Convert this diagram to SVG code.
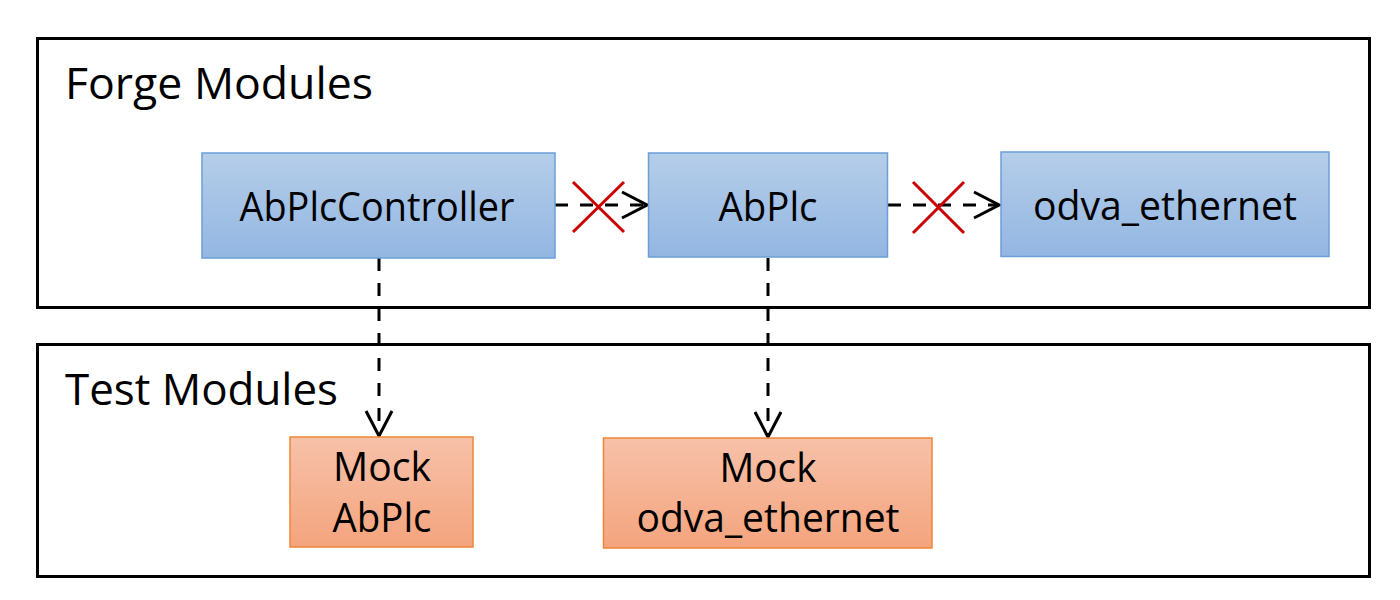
<svg xmlns="http://www.w3.org/2000/svg" width="1400" height="600" viewBox="0 0 1400 600">
<style>
.frame{fill:none;stroke:#000;stroke-width:3}
.blue{fill:url(#gBlue);stroke:#6a9fd8;stroke-width:1.5}
.orange{fill:url(#gOrange);stroke:#ef8537;stroke-width:1.5}
text{font-family:"Open Sans","Noto Sans","Liberation Sans",sans-serif;fill:#000}
.title{font-size:44px}
.lbl{font-size:40px;text-anchor:middle}
.dep{fill:none;stroke:#000;stroke-width:3;stroke-dasharray:13 12}
.cross{stroke:#cc0000;stroke-width:3;fill:none}
</style>
<defs>
<linearGradient id="gBlue" x1="0" y1="0" x2="0" y2="1">
<stop offset="0" stop-color="#b5cee9"/>
<stop offset="1" stop-color="#93b6e2"/>
</linearGradient>
<linearGradient id="gOrange" x1="0" y1="0" x2="0" y2="1">
<stop offset="0" stop-color="#f7c1a9"/>
<stop offset="1" stop-color="#f4a47d"/>
</linearGradient>
<marker id="arr" viewBox="0 0 30 30" refX="27" refY="15" markerWidth="30" markerHeight="30" markerUnits="userSpaceOnUse" orient="auto">
<path d="M2,2 L27,15 L2,28" fill="none" stroke="#000" stroke-width="3"/>
</marker>
</defs>
<g id="forge-modules">
<rect class="frame" x="37.5" y="38.5" width="1332" height="269"/>
<text class="title" x="65" y="99" textLength="308" lengthAdjust="spacingAndGlyphs">Forge Modules</text>
</g>
<g id="test-modules">
<rect class="frame" x="37.5" y="344.5" width="1332" height="232"/>
<text class="title" x="65" y="405" textLength="273" lengthAdjust="spacingAndGlyphs">Test Modules</text>
</g>
<g id="connectors">
<line class="dep" x1="555" y1="205" x2="647" y2="205" marker-end="url(#arr)"/>
<line class="dep" x1="888" y1="205" x2="999" y2="205" marker-end="url(#arr)"/>
<line class="dep" x1="379" y1="258" x2="379" y2="436" marker-end="url(#arr)"/>
<line class="dep" x1="768" y1="258" x2="768" y2="437" marker-end="url(#arr)"/>
<path class="cross" d="M573,182 L624,232 M624,182 L573,232"/>
<path class="cross" d="M913,182 L964,233 M964,182 L913,233"/>
</g>
<g id="node-abplccontroller">
<rect class="blue" x="202" y="153" width="353" height="105"/>
<text class="lbl" x="377" y="221" textLength="275" lengthAdjust="spacingAndGlyphs">AbPlcController</text>
</g>
<g id="node-abplc">
<rect class="blue" x="648.5" y="153" width="239" height="104"/>
<text class="lbl" x="768" y="221" textLength="99" lengthAdjust="spacingAndGlyphs">AbPlc</text>
</g>
<g id="node-odva-ethernet">
<rect class="blue" x="1001" y="152" width="328" height="104.5"/>
<text class="lbl" x="1165" y="220" textLength="264" lengthAdjust="spacingAndGlyphs">odva_ethernet</text>
</g>
<g id="node-mock-abplc">
<rect class="orange" x="290" y="437" width="183" height="110"/>
<text class="lbl" x="382" y="481" textLength="98" lengthAdjust="spacingAndGlyphs">Mock</text>
<text class="lbl" x="382" y="532" textLength="99" lengthAdjust="spacingAndGlyphs">AbPlc</text>
</g>
<g id="node-mock-odva-ethernet">
<rect class="orange" x="603.5" y="438" width="328.5" height="110"/>
<text class="lbl" x="768" y="482" textLength="97" lengthAdjust="spacingAndGlyphs">Mock</text>
<text class="lbl" x="768" y="532" textLength="263" lengthAdjust="spacingAndGlyphs">odva_ethernet</text>
</g>
</svg>
